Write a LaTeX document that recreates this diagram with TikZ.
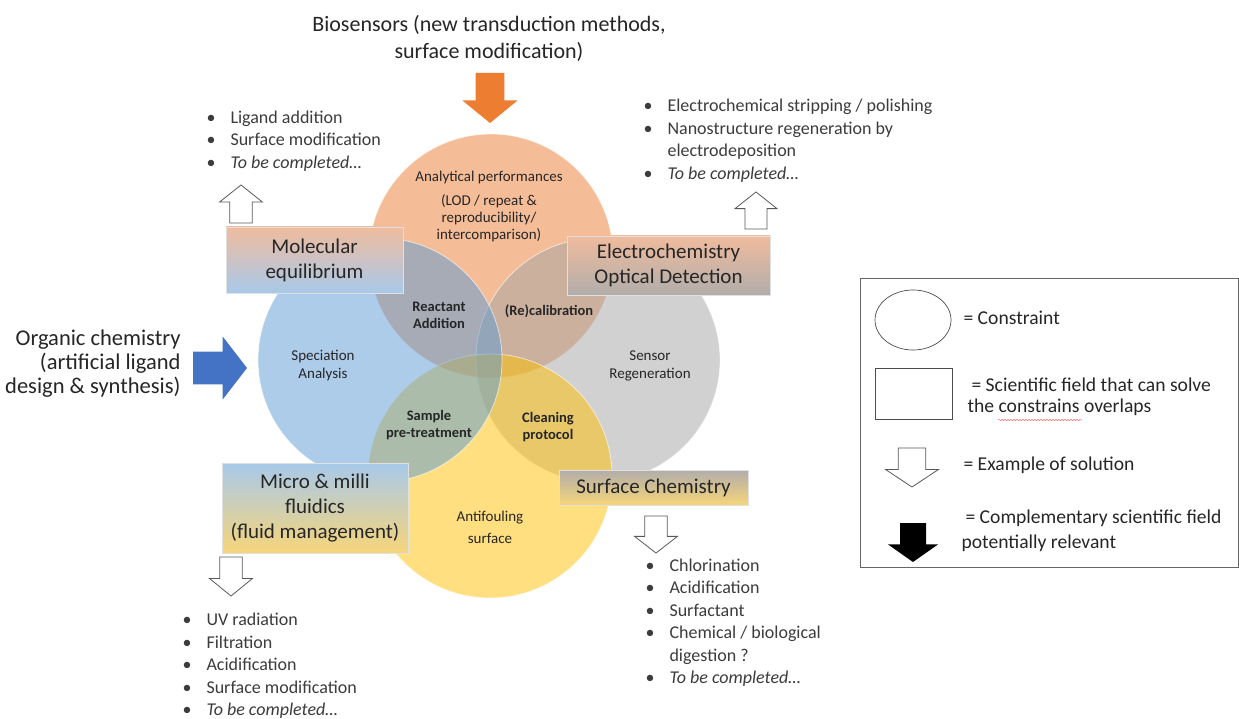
\documentclass[tikz,border=0pt]{standalone}
\usepackage{fontspec}
\setmainfont{Carlito}
\usetikzlibrary{shapes.geometric, decorations.pathmorphing}

\definecolor{accorange}{HTML}{ED7D31}
\definecolor{accblue}{HTML}{5B9BD5}
\definecolor{accgray}{HTML}{A5A5A5}
\definecolor{accgold}{HTML}{FFC000}
\definecolor{arrblue}{HTML}{4472C4}
\definecolor{peach}{HTML}{F0BC9E}
\definecolor{skyblue}{HTML}{A8C9EA}
\definecolor{warmgray}{HTML}{B1ADAA}
\definecolor{sand}{HTML}{F6D57A}
\definecolor{ink}{HTML}{262626}

\newcommand{\bul}{\makebox[24pt][l]{\textbullet}}

\tikzset{
  venn/.style={fill opacity=0.5, draw=white, draw opacity=0.6, line width=0.8pt},
  field/.style={draw=black!12, align=center, font=\fontsize{21}{25}\selectfont, text=ink, inner sep=0pt},
  constraint/.style={align=center, font=\fontsize{15}{18}\selectfont, text=ink},
  overlap/.style={align=center, font=\fontsize{14.5}{17}\selectfont\bfseries, text=ink},
  items/.style={align=left, anchor=west, font=\fontsize{18}{22.5}\selectfont, text=ink!90},
  legtext/.style={align=left, anchor=west, font=\fontsize{19.6}{21}\selectfont, text=ink},
  hollow/.style={draw=black!65, fill=white, line width=0.8pt},
  pics/blockarrow/.style={code={
    \path[pic actions] (-0.26,0) -- (0.26,0) -- (0.26,0.55) -- (0.5,0.55)
      -- (0,1) -- (-0.5,0.55) -- (-0.26,0.55) -- cycle;}},
}

\begin{document}
\begin{tikzpicture}[x=1pt, y=-1pt, >=latex]
    \path[use as bounding box, fill=white] (0,0) rectangle (1239,719);

    % constraints
    \coordinate (perf) at (491,256);
    \coordinate (spec) at (380,360);
    \coordinate (regen) at (598,360);
    \coordinate (antif) at (490,476);

    \filldraw [venn, fill=accorange] (perf) circle (122);
    \filldraw [venn, fill=accgray] (regen) circle (122);
    \filldraw [venn, fill=accgold] (antif) circle (122);
    \filldraw [venn, fill=accblue] (spec) circle (122);

    \node [constraint] (perftxt) at (489,178) {Analytical performances};
    \node [constraint, font=\fontsize{15}{17}\selectfont] (perfsub) at (489,218) {(LOD / repeat \&\\reproducibility/\\intercomparison)};
    \node [constraint] (spectxt) at (323,366) {Speciation\\Analysis};
    \node [constraint] (regentxt) at (650,366) {Sensor\\Regeneration};
    \node [constraint, font=\fontsize{15}{22}\selectfont] (antiftxt) at (490,527) {Antifouling\\surface};

    \node [overlap] (reactant) at (439,315) {Reactant\\Addition};
    \node [overlap] (recal) at (549,311) {(Re)calibration};
    \node [overlap] (sample) at (429,425) {Sample\\pre-treatment};
    \node [overlap] (cleaning) at (548,427) {Cleaning\\protocol};

    % scientific fields
    \node [field, minimum width=177, minimum height=66, top color=peach, bottom color=skyblue] (moleq) at (314.5,260) {Molecular\\equilibrium};
    \node [field, minimum width=203, minimum height=59, top color=peach, bottom color=warmgray] (elec) at (668.5,265.5) {Electrochemistry\\Optical Detection};
    \node [field, minimum width=186, minimum height=90, top color=skyblue, bottom color=sand] (fluid) at (315,508) {Micro \& milli\\fluidics\\(fluid management)};
    \node [field, minimum width=189, minimum height=35, top color=warmgray, bottom color=sand] (surf) at (653.5,487.5) {Surface Chemistry};

    % complementary fields
    \node [font=\fontsize{22}{27}\selectfont, align=center, text=ink] (bio) at (489,38.5) {Biosensors (new transduction methods,\\surface modification)};
    \pic [fill=accorange, xscale=55, yscale=50] (bioarrow) at (490,73) {blockarrow};

    \node [font=\fontsize{22.5}{24}\selectfont, align=right, anchor=east, text=ink] (orgchem) at (184,363.5) {Organic chemistry\\(artificial ligand\\design \& synthesis)};
    \pic [fill=arrblue, rotate=90, xscale=63, yscale=54] (orgarrow) at (193,368) {blockarrow};

    % solutions
    \pic [hollow, xscale=43, yscale=-38] (molarrow) at (241,223) {blockarrow};
    \pic [hollow, xscale=42, yscale=-37] (elecarrow) at (756,229) {blockarrow};
    \pic [hollow, xscale=43, yscale=39] (fluidarrow) at (231,557) {blockarrow};
    \pic [hollow, xscale=43, yscale=37] (surfarrow) at (656,516) {blockarrow};

    \node [items] (molsol) at (203,141) {\bul Ligand addition\\ \bul Surface modification\\ \bul\textit{To be completed\ldots}};
    \node [items] (elecsol) at (640,140.5) {\bul Electrochemical stripping / polishing\\ \bul Nanostructure regeneration by\\ \makebox[24pt]{}electrodeposition\\ \bul\textit{To be completed\ldots}};
    \node [items] (fluidsol) at (179,666) {\bul UV radiation\\ \bul Filtration\\ \bul Acidification\\ \bul Surface modification\\ \bul\textit{To be completed\ldots}};
    \node [items] (surfsol) at (642,622.5) {\bul Chlorination\\ \bul Acidification\\ \bul Surfactant\\ \bul Chemical / biological\\ \makebox[24pt]{}digestion ?\\ \bul\textit{To be completed\ldots}};

    % legend
    \node [draw=black!60, line width=0.8pt, minimum width=378, minimum height=289, inner sep=0pt] (legend) at (1049,422.5) {};
    \node [draw=black!70, line width=0.7pt, ellipse, minimum width=76, minimum height=60] (legcirc) at (913,320) {};
    \node [draw=black!70, line width=0.7pt, minimum width=77, minimum height=51] (legrect) at (913.5,393.5) {};
    \pic [hollow, xscale=53, yscale=39] (legsol) at (912,448) {blockarrow};
    \pic [fill=black, xscale=50, yscale=39] (legcomp) at (913,523) {blockarrow};

    \node [legtext] (legc) at (960,318) {= Constraint};
    \node [legtext] (legf) at (964,397) {\hspace*{4pt}= Scientific field that can solve\\the constrains overlaps};
    \node [legtext] (lege) at (960,465) {= Example of solution};
    \node [legtext] (legk) at (958,531) {\hspace*{4pt}= Complementary scientific field\\[4pt]potentially relevant};
    \draw [red!55, line width=0.5pt, decorate, decoration={snake, amplitude=0.7pt, segment length=3pt}] (998,420) -- (1082,420);
\end{tikzpicture}
\end{document}
